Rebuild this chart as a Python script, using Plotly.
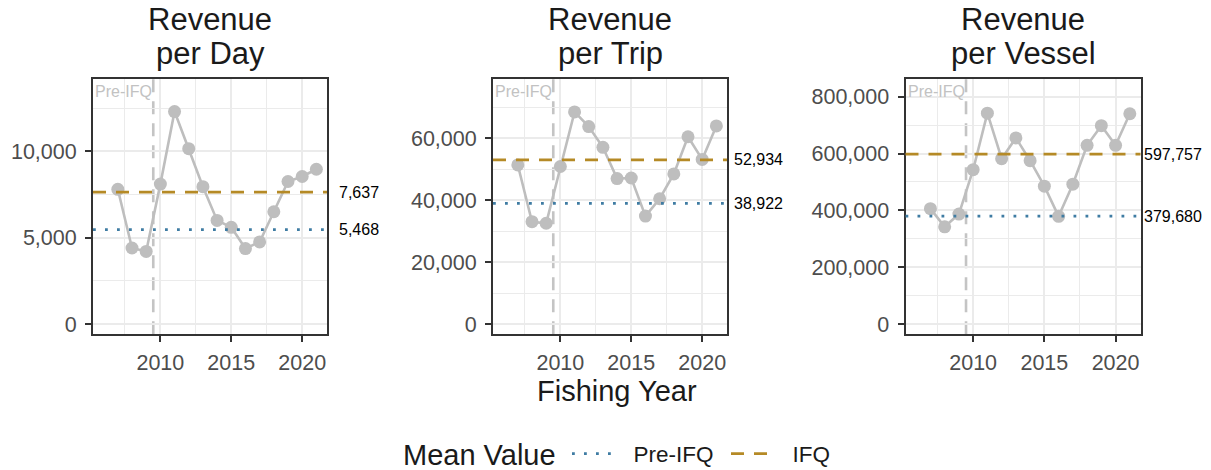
import plotly.graph_objects as go

# ---------------- data ----------------
years = [2007, 2008, 2009, 2010, 2011, 2012, 2013, 2014, 2015, 2016, 2017, 2018, 2019, 2020, 2021]
panel_titles = [["Revenue", "per Day"], ["Revenue", "per Trip"], ["Revenue", "per Vessel"]]
rev_day = [7800, 4400, 4200, 8100, 12300, 10150, 7950, 6000, 5600, 4370, 4750, 6500, 8250, 8540, 8960]
rev_trip = [51300, 33000, 32500, 50800, 68400, 63700, 57000, 46900, 47100, 34800, 40400, 48400, 60400, 53100, 63900]
rev_vessel = [406000, 342000, 387000, 543000, 742000, 582000, 655000, 575000, 485000, 379000, 492000, 629000, 698000, 629000, 740000]
pre_ifq_mean = [5468, 38922, 379680]
ifq_mean = [7637, 52934, 597757]
mean_labels_pre = ["5,468", "38,922", "379,680"]
mean_labels_ifq = ["7,637", "52,934", "597,757"]
legend_title = "Mean Value"
legend_names = ["Pre-IFQ", "IFQ"]
ifq_start = 2009.5
label_x_year = 2024
x_ticks = [2010, 2015, 2020]
x_minor = [2007.5, 2012.5, 2017.5]
y_dticks = [5000, 20000, 200000]
series = [rev_day, rev_trip, rev_vessel]

# ---------------- style / layout ----------------
FONT = "Liberation Sans, Arial, sans-serif"
W, H = 1211, 470
x_domains = [[93 / W, 327 / W], [493 / W, 727 / W], [905.5 / W, 1140.5 / W]]
y_domain = [(H - 334.3) / H, (H - 79) / H]
x_range = [2005.25, 2021.75]
y_ranges = [[-596, 14186], [-3323, 79032], [-36250, 862300]]
label_x_frac = (label_x_year - x_range[0]) / (x_range[1] - x_range[0])

GRID = "#ebebeb"
FRAME = "#333333"
PT_COLOR = "#bebebe"
PRE_COLOR = "#3f7ca3"
IFQ_COLOR = "#b58a26"
VLINE = "#c4c4c4"
NAME_PAD = "\u00a0\u00a0"

fig = go.Figure()
shapes = []
annotations = []

for i in range(3):
    xa = "x" if i == 0 else f"x{i+1}"
    ya = "y" if i == 0 else f"y{i+1}"
    fig.add_trace(go.Scatter(
        x=years, y=series[i], mode="lines+markers",
        line=dict(color=PT_COLOR, width=2.6),
        marker=dict(color=PT_COLOR, size=13),
        xaxis=xa, yaxis=ya, showlegend=False, hoverinfo="x+y",
    ))

    xkey = "xaxis" if i == 0 else f"xaxis{i+1}"
    ykey = "yaxis" if i == 0 else f"yaxis{i+1}"
    fig.layout[xkey] = dict(
        domain=x_domains[i], anchor=ya, range=x_range,
        tickmode="array", tickvals=x_ticks, ticktext=[str(t) for t in x_ticks],
        showgrid=True, gridcolor=GRID, gridwidth=1.6,
        minor=dict(tickmode="array", tickvals=x_minor, showgrid=True, gridcolor=GRID, gridwidth=0.9),
        showline=True, linecolor=FRAME, linewidth=2, mirror=True,
        ticks="outside", ticklen=6, tickwidth=1.6, tickcolor=FRAME,
        tickfont=dict(family=FONT, size=21.5, color="#4d4d4d"),
        ticklabelstandoff=2,
        zeroline=False, automargin=False, fixedrange=True,
    )
    fig.layout[ykey] = dict(
        domain=y_domain, anchor=xa, range=y_ranges[i],
        tick0=0, dtick=y_dticks[i], tickformat=",d",
        showgrid=True, gridcolor=GRID, gridwidth=1.6,
        minor=dict(tick0=0, dtick=y_dticks[i] / 2, showgrid=True, gridcolor=GRID, gridwidth=0.9),
        showline=True, linecolor=FRAME, linewidth=2, mirror=True,
        ticks="outside", ticklen=6, tickwidth=1.6, tickcolor=FRAME,
        tickfont=dict(family=FONT, size=21.5, color="#4d4d4d"),
        ticklabelstandoff=4,
        zeroline=False, automargin=False, fixedrange=True,
    )

    # vertical IFQ start line
    shapes.append(dict(
        type="line", xref=xa, yref=f"{ya} domain", x0=ifq_start, x1=ifq_start, y0=0, y1=1,
        line=dict(color=VLINE, width=2.6, dash="13px,9px"), layer="below",
    ))
    # mean lines
    shapes.append(dict(
        type="line", xref=f"{xa} domain", yref=ya, x0=0, x1=1, y0=pre_ifq_mean[i], y1=pre_ifq_mean[i],
        line=dict(color=PRE_COLOR, width=2.8, dash="2.8px,9.2px"), layer="above",
        name=NAME_PAD + legend_names[0], showlegend=(i == 0), legendgroup="pre",
    ))
    shapes.append(dict(
        type="line", xref=f"{xa} domain", yref=ya, x0=0, x1=1, y0=ifq_mean[i], y1=ifq_mean[i],
        line=dict(color=IFQ_COLOR, width=2.6, dash="13px,10px"), layer="above",
        name=NAME_PAD + legend_names[1], showlegend=(i == 0), legendgroup="ifq",
    ))

    # mean value labels (placed at year 2024, beyond the panel's right edge)
    annotations.append(dict(
        xref=f"{xa} domain", yref=ya, x=label_x_frac, y=pre_ifq_mean[i], text=mean_labels_pre[i],
        showarrow=False, xanchor="center", yanchor="middle",
        font=dict(family=FONT, size=16, color="black"),
    ))
    annotations.append(dict(
        xref=f"{xa} domain", yref=ya, x=label_x_frac, y=ifq_mean[i], text=mean_labels_ifq[i],
        showarrow=False, xanchor="center", yanchor="middle",
        font=dict(family=FONT, size=16, color="black"),
    ))
    # Pre-IFQ label
    annotations.append(dict(
        xref=xa, yref=f"{ya} domain", x=ifq_start, y=0.95, text="Pre-IFQ",
        showarrow=False, xanchor="right", yanchor="middle", xshift=1,
        font=dict(family=FONT, size=16, color="#c2c2c2"),
    ))
    # titles
    cx = (x_domains[i][0] + x_domains[i][1]) / 2
    annotations.append(dict(
        xref="paper", yref="paper", x=cx, y=1 - 20 / H, text=panel_titles[i][0],
        showarrow=False, xanchor="center", yanchor="middle",
        font=dict(family=FONT, size=31, color="#1a1a1a"),
    ))
    annotations.append(dict(
        xref="paper", yref="paper", x=cx, y=1 - 53 / H, text=panel_titles[i][1],
        showarrow=False, xanchor="center", yanchor="middle",
        font=dict(family=FONT, size=31, color="#1a1a1a"),
    ))

# x-axis title
annotations.append(dict(
    xref="paper", yref="paper", x=616.5 / W, y=1 - 391 / H, text="Fishing Year",
    showarrow=False, xanchor="center", yanchor="middle",
    font=dict(family=FONT, size=29, color="#1a1a1a"),
))
# legend title
annotations.append(dict(
    xref="paper", yref="paper", x=401 / W, y=1 - 455 / H, text=legend_title,
    showarrow=False, xanchor="left", yanchor="middle",
    font=dict(family=FONT, size=29, color="#1a1a1a"),
))

fig.update_layout(
    width=W, height=H,
    margin=dict(l=0, r=0, t=0, b=0, autoexpand=False),
    paper_bgcolor="white", plot_bgcolor="white",
    shapes=shapes, annotations=annotations,
    showlegend=True,
    legend=dict(
        orientation="h", x=567 / W, xanchor="left", y=1 - 454 / H, yanchor="middle",
        font=dict(family=FONT, size=22.5, color="#1a1a1a"),
        bgcolor="rgba(0,0,0,0)", itemwidth=44, entrywidth=100,
    ),
    font=dict(family=FONT),
)

fig.write_html("out.html", config={"displayModeBar": False},
               post_script="document.body.style.margin='0';")
